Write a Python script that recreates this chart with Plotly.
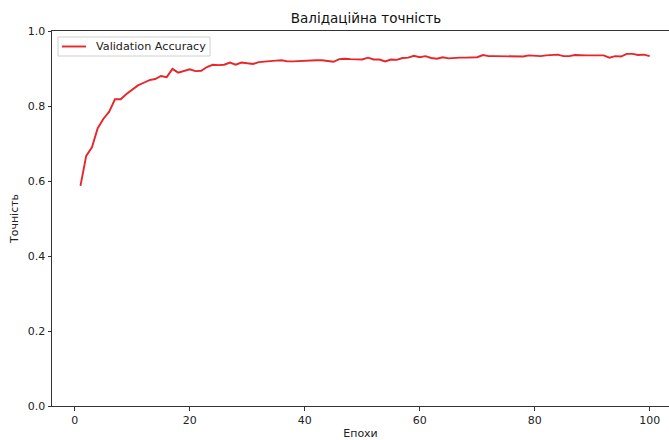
import plotly.graph_objects as go

epochs = list(range(1, 101))
val_acc = [
    0.587, 0.667, 0.690, 0.741, 0.766, 0.785, 0.818, 0.818, 0.832, 0.844,
    0.855, 0.862, 0.869, 0.872, 0.880, 0.877, 0.899, 0.889, 0.894, 0.898,
    0.893, 0.894, 0.904, 0.910, 0.909, 0.910, 0.916, 0.910, 0.916, 0.914,
    0.912, 0.917, 0.919, 0.919, 0.921, 0.922, 0.919, 0.919, 0.920, 0.921,
    0.921, 0.922, 0.922, 0.920, 0.918, 0.925, 0.926, 0.925, 0.925, 0.924,
    0.929, 0.924, 0.924, 0.919, 0.924, 0.923, 0.928, 0.929, 0.934, 0.930,
    0.933, 0.928, 0.926, 0.930, 0.927, 0.929, 0.929, 0.929, 0.929, 0.930,
    0.936, 0.933, 0.933, 0.933, 0.932, 0.931, 0.931, 0.932, 0.935, 0.934,
    0.933, 0.935, 0.936, 0.937, 0.933, 0.933, 0.936, 0.935, 0.935, 0.935,
    0.935, 0.935, 0.929, 0.933, 0.932, 0.939, 0.939, 0.936, 0.937, 0.933,
]
x_ticks = [0, 20, 40, 60, 80, 100]
y_ticks = [0.0, 0.2, 0.4, 0.6, 0.8, 1.0]
series_name = "Validation Accuracy"
line_color = "#e8262a"

font = "DejaVu Sans"
fig = go.Figure()
fig.add_trace(go.Scatter(
    x=epochs, y=val_acc, mode="lines", name=series_name,
    line=dict(color=line_color, width=1.9), showlegend=False,
))

W, H = 669, 440
L, R, T, B = 52, 0, 31, 34
PW, PH = W - L - R, H - T - B


def px_x(p):
    return (p - L) / PW


def px_y(p):
    return (H - B - p) / PH


# legend box (matplotlib style, upper left)
fig.add_shape(type="rect", xref="paper", yref="paper",
              x0=px_x(58), x1=px_x(210), y0=px_y(56), y1=px_y(37),
              line=dict(color="#d0d0d0", width=1), fillcolor="rgba(255,255,255,0.85)")
fig.add_shape(type="line", xref="paper", yref="paper",
              x0=px_x(62), x1=px_x(86), y0=px_y(46.5), y1=px_y(46.5),
              line=dict(color=line_color, width=1.9))
fig.add_annotation(text=series_name, xref="paper", yref="paper",
                   x=px_x(94), y=px_y(46.5), xanchor="left", yanchor="middle",
                   showarrow=False, font=dict(size=11.2, color="#222"))

fig.update_layout(
    width=W, height=H,
    margin=dict(l=L, r=R, t=T, b=B),
    paper_bgcolor="white", plot_bgcolor="white",
    font=dict(family=font, size=11, color="#222"),
    title=dict(text="Валідаційна точність", x=366 / W, xref="container",
               xanchor="center", y=1 - 18 / H, yref="container", yanchor="middle",
               font=dict(size=13.5, color="#111")),
    showlegend=False,
    xaxis=dict(range=[-3.95, -3.95 + PW / 5.75],
               tickvals=x_ticks, ticktext=[str(v) for v in x_ticks],
               showgrid=False, zeroline=False, showline=True, mirror=True,
               linecolor="#333", linewidth=1, ticks="outside", ticklen=3.5,
               tickcolor="#333",
               title=dict(text="Епохи", standoff=5, font=dict(size=11))),
    yaxis=dict(range=[0, 1], tickvals=y_ticks, ticktext=[f"{v:.1f}" for v in y_ticks],
               showgrid=False, zeroline=False, showline=True, mirror=False,
               linecolor="#333", linewidth=1, ticks="outside", ticklen=3.5,
               tickcolor="#333",
               title=dict(text="Точність", standoff=6, font=dict(size=11))),
)
fig.write_html("out.html")
